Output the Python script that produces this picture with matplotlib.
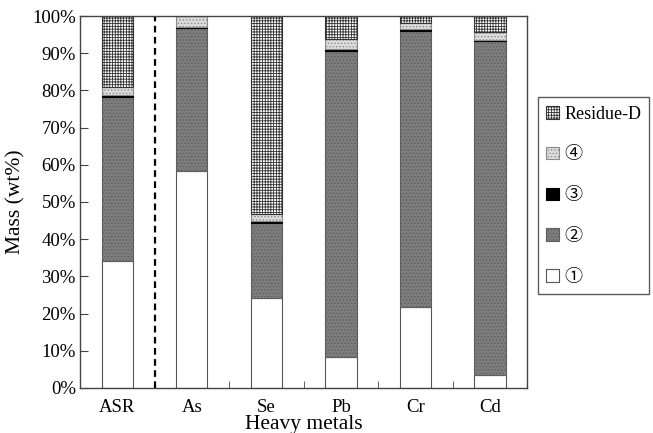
import numpy as np
import matplotlib
matplotlib.use("Agg")
import matplotlib.pyplot as plt

plt.rcParams['font.family'] = ['Liberation Serif', 'Noto Sans CJK JP', 'DejaVu Sans']
plt.rcParams['hatch.linewidth'] = 0.6

metals = ['ASR', 'As', 'Se', 'Pb', 'Cr', 'Cd']
frac1 = [34.1, 58.2, 24.1, 8.2, 21.7, 3.4]
frac2 = [44.0, 38.5, 20.2, 82.3, 74.3, 89.8]
frac3 = [0.8, 0.3, 0.5, 0.6, 0.5, 0.3]
frac4 = [1.9, 3.0, 2.0, 2.6, 1.5, 2.1]
residue = [19.2, 0.0, 53.2, 6.3, 2.0, 4.4]

layers = [
    ('①', frac1, 'white', None, '#555555'),
    ('②', frac2, '#7d7d7d', '.....', '#5e5e5e'),
    ('③', frac3, 'black', None, 'black'),
    ('④', frac4, '#dcdcdc', '.....', '#8a8a8a'),
    ('Residue-D', residue, 'white', '++++++', '#333333'),
]

fig = plt.figure(figsize=(6.53, 4.33), dpi=100)
ax = fig.add_axes([0.1225, 0.104, 0.685, 0.859])

x = np.arange(len(metals))
bottom = np.zeros(len(metals))
handles = []
for name, vals, fc, hatch, ec in layers:
    vals = np.array(vals)
    b = ax.bar(x, vals, width=0.42, bottom=bottom, color=fc, hatch=hatch,
               edgecolor=ec, linewidth=0.8, label=name)
    handles.append(b)
    bottom += vals

ax.axvline(0.5, color='black', linestyle=(0, (3, 2)), linewidth=1.6)

ax.set_xlim(-0.5, 5.5)
ax.set_ylim(0, 100)
ax.set_yticks(np.arange(0, 101, 10))
ax.set_yticklabels([f'{v}%' for v in range(0, 101, 10)])
ax.set_xticks(x)
ax.set_xticklabels(metals)
ax.set_xticks([1.5, 2.5, 3.5, 4.5], minor=True)
ax.tick_params(axis='x', which='major', length=0, labelsize=13.5, pad=8)
ax.tick_params(axis='x', which='minor', direction='in', length=5, color='#444444')
ax.tick_params(axis='y', direction='in', length=6, labelsize=13.5, color='#444444', pad=3)
for s in ax.spines.values():
    s.set_color('#444444')
    s.set_linewidth(1.0)

ax.set_xlabel('Heavy metals', fontsize=15.5, labelpad=-1)
ax.set_ylabel('Mass (wt%)', fontsize=15.5, labelpad=5)

leg = fig.legend(handles[::-1], [l[0] for l in layers][::-1],
                 loc='lower left', bbox_to_anchor=(0.824, 0.321),
                 fontsize=13, frameon=True, fancybox=False,
                 handlelength=0.7, handleheight=0.7, handletextpad=0.3,
                 labelspacing=1.32, borderpad=0.45, borderaxespad=0)
leg.get_frame().set_edgecolor('#333333')
leg.get_frame().set_linewidth(1.0)

fig.savefig('out.png', dpi=100)
